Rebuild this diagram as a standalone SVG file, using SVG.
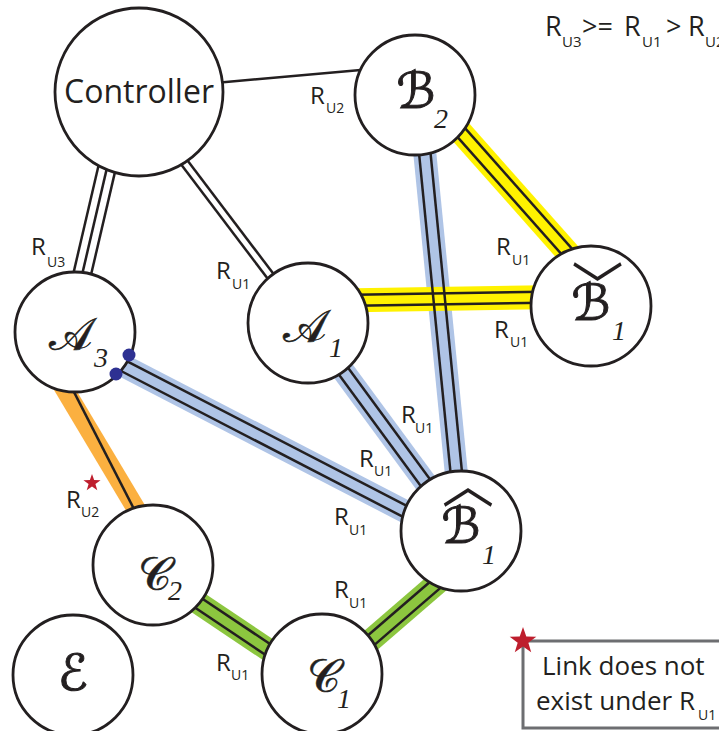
<svg xmlns="http://www.w3.org/2000/svg" xmlns:xlink="http://www.w3.org/1999/xlink" width="719" height="731" viewBox="0 0 719 731">
<defs>
<style>
.node{fill:#fff;stroke:#231f20;stroke-width:2.8}
.k{stroke:#231f20;stroke-width:2.5;fill:none;stroke-linecap:butt}
.yb{stroke:#fff200;stroke-width:24;fill:none}
.bb{stroke:#afc4e6;stroke-width:23;fill:none}
.gb{stroke:#8cc63f;stroke-width:23;fill:none}
.ob{stroke:#fbb040;stroke-width:19;fill:none}
.lbl{font-family:"Open Sans","Liberation Sans",sans-serif;font-size:24px;fill:#231f20}
.sub{font-size:14px}
.scr{font-family:"DejaVu Serif","DejaVu Sans",serif;font-size:46px;fill:#231f20;stroke:#231f20;stroke-width:0.6}
.scb{font-family:"DejaVu Serif","DejaVu Sans",serif;font-size:50px;fill:#231f20;stroke:#231f20;stroke-width:1}
.ix{font-family:"Liberation Serif",serif;font-style:italic;font-size:28px;fill:#231f20}
.acc{font-family:"Noto Sans CJK SC","Noto Sans CJK JP",sans-serif;font-size:52px;fill:#231f20}
</style>
<polygon id="star" points="0,-1 0.235,-0.324 0.951,-0.309 0.380,0.124 0.588,0.809 0,0.4 -0.588,0.809 -0.380,0.124 -0.951,-0.309 -0.235,-0.324" fill="#be1e2d"/>
</defs>
<rect width="719" height="731" fill="#fff"/>

<g id="connectors">
  <line class="bb" x1="423" y1="135" x2="458" y2="490"/>
  <line class="bb" x1="331.7" y1="355.2" x2="437.3" y2="498.8"/>
  <line class="bb" x1="113" y1="360.4" x2="427.8" y2="523.2"/>
  <line class="yb" x1="340" y1="300.5" x2="560" y2="297"/>
  <line class="yb" x1="451" y1="121" x2="577" y2="263"/>
  <line class="gb" x1="355" y1="654" x2="450" y2="572"/>
  <line class="gb" x1="185" y1="594" x2="285" y2="661"/>
  <line class="ob" x1="59.9" y1="381.4" x2="140.1" y2="515.6"/>
  <line class="k" x1="417.3" y1="135.6" x2="452.3" y2="490.6"/>
  <line class="k" x1="428.7" y1="134.4" x2="463.7" y2="489.4"/>
  <line class="k" x1="327.1" y1="358.6" x2="432.7" y2="502.2"/>
  <line class="k" x1="336.3" y1="351.8" x2="441.9" y2="495.4"/>
  <line class="k" x1="110.4" y1="365.5" x2="425.2" y2="528.3"/>
  <line class="k" x1="115.6" y1="355.3" x2="430.4" y2="518.1"/>
  <line class="k" x1="340" y1="295" x2="560" y2="291.5"/>
  <line class="k" x1="340" y1="306" x2="560" y2="302.5"/>
  <line class="k" x1="446.7" y1="124.8" x2="572.7" y2="266.8"/>
  <line class="k" x1="455.3" y1="117.2" x2="581.3" y2="259.2"/>
  <line class="k" x1="358.8" y1="658.4" x2="453.8" y2="576.4"/>
  <line class="k" x1="351.3" y1="649.7" x2="446.3" y2="567.7"/>
  <line class="k" x1="181.8" y1="598.8" x2="281.8" y2="665.8"/>
  <line class="k" x1="188.2" y1="589.2" x2="288.2" y2="656.2"/>
  <line class="k" x1="68.4" y1="381.1" x2="137.6" y2="516.1"/>
  <line x1="109.4" y1="157.4" x2="78.6" y2="289.6" stroke="#231f20" stroke-width="20"/>
  <line x1="109.4" y1="157.4" x2="78.6" y2="289.6" stroke="#fff" stroke-width="15"/>
  <line class="k" x1="109.4" y1="157.4" x2="78.6" y2="289.6"/>
  <line x1="177.9" y1="154" x2="281" y2="290" stroke="#231f20" stroke-width="10"/>
  <line x1="177.9" y1="154" x2="281" y2="290" stroke="#fff" stroke-width="5"/>
  <line class="k" x1="215" y1="83" x2="372" y2="69"/>
</g>

<g id="node-controller">
  <circle class="node" cx="139" cy="92" r="84"/>
  <text x="139" y="103" text-anchor="middle" style="font-family:'Open Sans','Liberation Sans',sans-serif;font-size:32px;fill:#231f20">Controller</text>
</g>
<g id="node-B2">
  <circle class="node" cx="415" cy="95" r="60"/>
  <text class="scb" x="416" y="108" text-anchor="middle" font-size="46">ℬ</text>
  <text class="ix" x="434" y="128">2</text>
</g>
<g id="node-A3">
  <circle class="node" cx="75" cy="332" r="60"/>
  <text class="scr" x="71" y="350" text-anchor="middle">𝒜</text>
  <text class="ix" x="94" y="367">3</text>
</g>
<g id="node-A1">
  <circle class="node" cx="308" cy="323" r="60"/>
  <text class="scr" x="305" y="342" text-anchor="middle">𝒜</text>
  <text class="ix" x="329" y="357">1</text>
</g>
<g id="node-B1check">
  <circle class="node" cx="591" cy="306" r="60"/>
  <text class="acc" x="597.5" y="306" text-anchor="middle">﹀</text>
  <text class="scb" x="591" y="320" text-anchor="middle">ℬ</text>
  <text class="ix" x="612" y="340">1</text>
</g>
<g id="node-B1hat">
  <circle class="node" cx="461" cy="531" r="60"/>
  <text class="acc" x="468" y="503" text-anchor="middle">︿</text>
  <text class="scb" x="461" y="543" text-anchor="middle" font-size="46">ℬ</text>
  <text class="ix" x="482" y="564">1</text>
</g>
<g id="node-C2">
  <circle class="node" cx="153" cy="565" r="60"/>
  <text class="scr" x="155" y="590" text-anchor="middle" font-size="52">𝒞</text>
  <text class="ix" x="168" y="600">2</text>
</g>
<g id="node-C1">
  <circle class="node" cx="322" cy="674" r="60"/>
  <text class="scr" x="324" y="692" text-anchor="middle" font-size="52">𝒞</text>
  <text class="ix" x="337" y="708">1</text>
</g>
<g id="node-E">
  <circle class="node" cx="73" cy="675" r="60"/>
  <text class="scb" x="73" y="690" text-anchor="middle" font-size="54">ℰ</text>
</g>

<circle cx="129" cy="355" r="6.5" fill="#2e3192"/>
<circle cx="116" cy="374" r="6.5" fill="#2e3192"/>

<g id="labels">
  <text class="lbl"><tspan x="31" y="255">R</tspan><tspan class="sub" x="47" y="267">U3</tspan></text>
  <text class="lbl"><tspan x="216" y="279">R</tspan><tspan class="sub" x="232" y="289">U1</tspan></text>
  <text class="lbl"><tspan x="310" y="104">R</tspan><tspan class="sub" x="326" y="113">U2</tspan></text>
  <text class="lbl"><tspan x="496" y="255">R</tspan><tspan class="sub" x="512" y="265">U1</tspan></text>
  <text class="lbl"><tspan x="494" y="338">R</tspan><tspan class="sub" x="510" y="347">U1</tspan></text>
  <text class="lbl"><tspan x="401" y="423">R</tspan><tspan class="sub" x="415" y="433">U1</tspan></text>
  <text class="lbl"><tspan x="359" y="467">R</tspan><tspan class="sub" x="374" y="476">U1</tspan></text>
  <text class="lbl"><tspan x="334" y="525">R</tspan><tspan class="sub" x="349" y="535">U1</tspan></text>
  <text class="lbl"><tspan x="66" y="508">R</tspan><tspan class="sub" x="81" y="517">U2</tspan></text>
  <text class="lbl"><tspan x="334" y="598">R</tspan><tspan class="sub" x="349" y="608">U1</tspan></text>
  <text class="lbl"><tspan x="216" y="671">R</tspan><tspan class="sub" x="231" y="680">U1</tspan></text>
  <use xlink:href="#star" transform="translate(92,483) scale(9)"/>
</g>

<g id="formula" style="font-family:'Open Sans','Liberation Sans',sans-serif;fill:#231f20">
  <text font-size="27"><tspan x="545" y="36">R</tspan><tspan font-size="15" x="562" y="47">U3</tspan><tspan x="582" y="36">&gt;=</tspan><tspan x="624" y="36">R</tspan><tspan font-size="15" x="642" y="47">U1</tspan><tspan x="666" y="36">&gt;</tspan><tspan x="688" y="36">R</tspan><tspan font-size="15" x="705" y="47">U2</tspan></text>
</g>

<g id="legend">
  <rect x="523" y="641" width="210" height="87" fill="#fff" stroke="#6d6e71" stroke-width="3"/>
  <use xlink:href="#star" transform="translate(523,641) scale(14)"/>
  <text style="font-family:'Open Sans','Liberation Sans',sans-serif;font-size:26px;fill:#231f20"><tspan x="542" y="675">Link does not</tspan><tspan x="536" y="710">exist under R</tspan><tspan font-size="14" x="698" y="720">U1</tspan></text>
</g>
</svg>
